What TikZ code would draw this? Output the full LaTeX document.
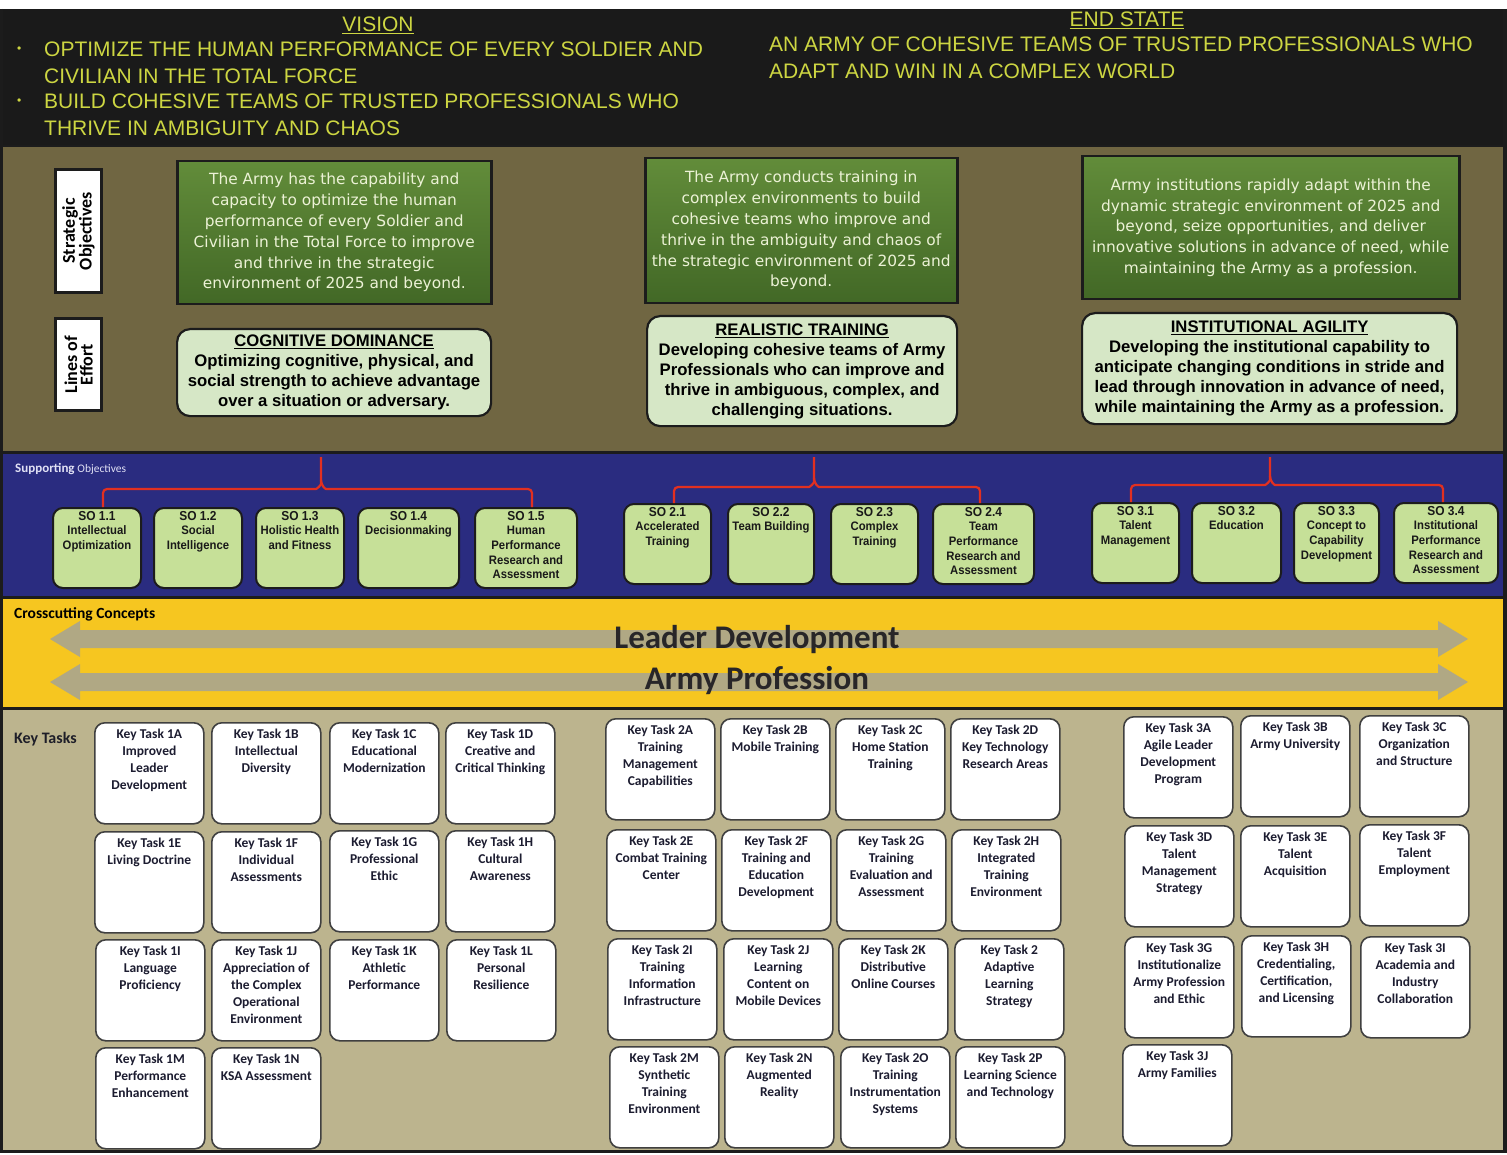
\documentclass[tikz,border=0pt]{standalone}
\usepackage{fontspec}
\setmainfont{Liberation Sans}
\newfontfamily\dvs{DejaVu Sans}
\newfontfamily\crl{Carlito}
\newfontfamily\arn[FakeStretch=0.92]{Liberation Sans}
\definecolor{hdrbg}{RGB}{26,26,26}
\definecolor{hdrtx}{RGB}{205,214,66}
\definecolor{olivebg}{RGB}{112,102,66}
\definecolor{bandblue}{RGB}{42,44,128}
\definecolor{bandyel}{RGB}{246,198,32}
\definecolor{tanbg}{RGB}{188,180,142}
\definecolor{sogreenT}{RGB}{98,140,58}
\definecolor{sogreenB}{RGB}{66,104,38}
\definecolor{sotext}{RGB}{236,242,214}
\definecolor{loefill}{RGB}{214,231,198}
\definecolor{smallfill}{RGB}{198,224,152}
\definecolor{bracered}{RGB}{226,48,32}
\definecolor{arrowc}{RGB}{176,168,132}
\definecolor{kttx}{RGB}{28,28,48}
\definecolor{edge}{RGB}{28,28,28}
\newcommand{\ktask}[4]{%
  \node[ktbox, anchor=north west] (#1) at (#2,#3) {};
  \node[kttext, anchor=north] (#1t) at ([yshift=-7pt]#1.north) {#4};}
\newcommand{\sobox}[6]{%
  \node[smallbox, minimum width=#4pt, anchor=north west] (#1) at (#2,#3) {};
  \node[smalltext, anchor=north] (#1t) at ([yshift=-4pt]#1.north) {{\fontsize{13}{15}\selectfont #5}\\#6};}
\begin{document}
\begin{tikzpicture}[x=1pt,y=-1pt,
  hdr/.style={text=hdrtx, font=\fontsize{21}{24}\selectfont, inner sep=0pt},
  lbl/.style={draw=edge, line width=3pt, fill=white, minimum width=46pt, inner sep=0pt},
  lbltext/.style={rotate=90, font=\crl\bfseries\fontsize{18}{15.5}\selectfont, align=center, text=black},
  sobig/.style={draw=edge, line width=2.5pt, top color=sogreenT, bottom color=sogreenB, align=center, text=sotext, font=\dvs\fontsize{15.4}{20.8}\selectfont, inner sep=0pt},
  loe/.style={draw=edge, line width=2.2pt, fill=loefill, rounded corners=13pt, align=center, text=black, font=\bfseries\fontsize{16.7}{20}\selectfont, inner sep=0pt},
  smallbox/.style={draw=edge, line width=2pt, fill=smallfill, rounded corners=10pt, minimum height=80pt, inner sep=0pt},
  smalltext/.style={align=center, text=black!90, font=\arn\bfseries\fontsize{12.3}{14.6}\selectfont, inner sep=0pt},
  brace/.style={draw=bracered, line width=2.2pt, rounded corners=4pt},
  ktbox/.style={draw=black!75, line width=1.6pt, fill=white, rounded corners=10pt, minimum width=109pt, minimum height=101pt, inner sep=0pt},
  kttext/.style={align=center, text=kttx, font=\crl\bfseries\fontsize{13.5}{17}\selectfont, inner sep=0pt}
]
\useasboundingbox (0,0) rectangle (1507,1155);
% ---------- backgrounds ----------
\fill[white] (0,0) rectangle (1507,1155);
\fill[hdrbg] (0,9) rectangle (1507,146);
\fill[olivebg] (0,146) rectangle (1507,452);
\fill[bandblue] (0,452) rectangle (1507,597);
\fill[bandyel] (0,597) rectangle (1507,708);
\fill[tanbg] (0,708) rectangle (1507,1150);
\draw[edge, line width=2.5pt] (0,146) -- (1507,146);
\draw[edge, line width=3pt] (0,452) -- (1507,452);
\draw[edge, line width=3pt] (0,597) -- (1507,597);
\draw[edge, line width=3pt] (0,708) -- (1507,708);
\draw[edge, line width=3pt] (0,1151) -- (1507,1151);
\draw[edge, line width=3pt] (1.5,9) -- (1.5,1152);
\draw[edge, line width=4pt] (1505,9) -- (1505,1152);
% ---------- header ----------
\node[hdr, anchor=base] (vis) at (378,32) {\underline{VISION}};
\node[hdr, anchor=base west, font=\fontsize{12}{14}\selectfont] (vb1) at (17,53) {•};
\node[hdr, anchor=base west] (v1) at (44,56.5) {OPTIMIZE THE HUMAN PERFORMANCE OF EVERY SOLDIER AND};
\node[hdr, anchor=base west] (v2) at (44,83.5) {CIVILIAN IN THE TOTAL FORCE};
\node[hdr, anchor=base west, font=\fontsize{12}{14}\selectfont] (vb2) at (17,105) {•};
\node[hdr, anchor=base west] (v3) at (44,108.5) {BUILD COHESIVE TEAMS OF TRUSTED PROFESSIONALS WHO};
\node[hdr, anchor=base west] (v4) at (44,135.5) {THRIVE IN AMBIGUITY AND CHAOS};
\node[hdr, anchor=base] (es) at (1127,27) {\underline{END STATE}};
\node[hdr, anchor=base west] (e1) at (769,51.5) {AN ARMY OF COHESIVE TEAMS OF TRUSTED PROFESSIONALS WHO};
\node[hdr, anchor=base west] (e2) at (769,78.5) {ADAPT AND WIN IN A COMPLEX WORLD};
% ---------- strategic objectives / lines of effort ----------
\node[lbl, minimum height=123pt, anchor=north west] (lso) at (54,168) {};
\node[lbltext] (lsot) at (lso.center) {Strategic\\Objectives};
\node[lbl, minimum height=92pt, anchor=north west] (lloe) at (54,317) {};
\node[lbltext] (lloet) at (lloe.center) {Lines of\\Effort};

\node[sobig, minimum width=314pt, minimum height=143pt, anchor=north west] (s1) at (176,160)
 {The Army has the capability and\\capacity to optimize the human\\performance of every Soldier and\\Civilian in the Total Force to improve\\and thrive in the strategic\\environment of 2025 and beyond.};
\node[sobig, minimum width=312pt, minimum height=145pt, anchor=north west] (s2) at (644,157)
 {The Army conducts training in\\complex environments to build\\cohesive teams who improve and\\thrive in the ambiguity and chaos of\\the strategic environment of 2025 and\\beyond.};
\node[sobig, minimum width=377pt, minimum height=143pt, anchor=north west] (s3) at (1081,155)
 {Army institutions rapidly adapt within the\\dynamic strategic environment of 2025 and\\beyond, seize opportunities, and deliver\\innovative solutions in advance of need, while\\maintaining the Army as a profession.};

\node[loe, minimum width=314pt, minimum height=87pt, anchor=north west] (l1) at (176,328)
 {\underline{COGNITIVE DOMINANCE}\\Optimizing cognitive, physical, and\\social strength to achieve advantage\\over a situation or adversary.};
\node[loe, minimum width=310pt, minimum height=110pt, anchor=north west] (l2) at (646,315)
 {\underline{REALISTIC TRAINING}\\Developing cohesive teams of Army\\Professionals who can improve and\\thrive in ambiguous, complex, and\\challenging situations.};
\node[loe, minimum width=375pt, minimum height=111pt, anchor=north west] (l3) at (1081,312)
 {\underline{INSTITUTIONAL AGILITY}\\Developing the institutional capability to\\anticipate changing conditions in stride and\\lead through innovation in advance of need,\\while maintaining the Army as a profession.};
% ---------- supporting objectives ----------
\node[anchor=base west, inner sep=0pt, text={rgb,255:red,225;green,225;blue,245}] (sol) at (15,472)
 {{\crl\bfseries\fontsize{13}{15}\selectfont Supporting} {\crl\fontsize{11.5}{13}\selectfont Objectives}};

\sobox{so11}{52}{507}{88}{SO 1.1}{Intellectual\\Optimization}
\sobox{so12}{153}{507}{88}{SO 1.2}{Social\\Intelligence}
\sobox{so13}{255}{507}{88}{SO 1.3}{Holistic Health\\and Fitness}
\sobox{so14}{357}{507}{101}{SO 1.4}{Decisionmaking}
\sobox{so15}{474}{507}{102}{SO 1.5}{Human\\Performance\\Research and\\Assessment}
\sobox{so21}{623}{503}{87}{SO 2.1}{Accelerated\\Training}
\sobox{so22}{727}{503}{86}{SO 2.2}{Team Building}
\sobox{so23}{830}{503}{87}{SO 2.3}{Complex\\Training}
\sobox{so24}{932}{503}{101}{SO 2.4}{Team\\Performance\\Research and\\Assessment}
\sobox{so31}{1091}{502}{87}{SO 3.1}{Talent\\Management}
\sobox{so32}{1191}{502}{89}{SO 3.2}{Education}
\sobox{so33}{1293}{502}{85}{SO 3.3}{Concept to\\Capability\\Development}
\sobox{so34}{1393}{502}{104}{SO 3.4}{Institutional\\Performance\\Research and\\Assessment}

% braces
\coordinate (b1t) at (321,457);
\coordinate (b1l) at (103,507);
\coordinate (b1r) at (532,507);
\draw[brace] (b1l) |- (312,489) to[out=0,in=-90] (321,480) -- (b1t);
\draw[brace] (b1r) |- (330,489) to[out=180,in=-90] (321,480);
\coordinate (b2t) at (814,457);
\coordinate (b2l) at (674,503);
\coordinate (b2r) at (980,503);
\draw[brace] (b2l) |- (805,487) to[out=0,in=-90] (814,478) -- (b2t);
\draw[brace] (b2r) |- (823,487) to[out=180,in=-90] (814,478);
\coordinate (b3t) at (1270,457);
\coordinate (b3l) at (1131,502);
\coordinate (b3r) at (1443,502);
\draw[brace] (b3l) |- (1261,485) to[out=0,in=-90] (1270,476) -- (b3t);
\draw[brace] (b3r) |- (1279,485) to[out=180,in=-90] (1270,476);
% ---------- crosscutting concepts ----------
\node[anchor=base west, inner sep=0pt, font=\crl\bfseries\fontsize{15.5}{18}\selectfont] (ccl) at (14,618) {Crosscutting Concepts};
\fill[arrowc] (50,639) -- (80,621) -- (80,630) -- (1438,630) -- (1438,621) -- (1468,639) -- (1438,657) -- (1438,648) -- (80,648) -- (80,657) -- cycle;
\fill[arrowc] (50,682) -- (80,664) -- (80,673) -- (1438,673) -- (1438,664) -- (1468,682) -- (1438,700) -- (1438,691) -- (80,691) -- (80,700) -- cycle;
\node[inner sep=0pt, font=\crl\bfseries\fontsize{33}{36}\selectfont, text={rgb,255:red,40;green,38;blue,40}] (ld) at (757,640) {Leader Development};
\node[inner sep=0pt, font=\crl\bfseries\fontsize{33}{36}\selectfont, text={rgb,255:red,40;green,38;blue,40}] (ap) at (757,681) {Army Profession};
% ---------- key tasks ----------
\node[anchor=base west, inner sep=0pt, font=\crl\bfseries\fontsize{16}{18}\selectfont, text={rgb,255:red,30;green,30;blue,40}] (ktl) at (14,743) {Key Tasks};

\ktask{k1a}{94}{722}{Key Task 1A\\Improved\\Leader\\Development}
\ktask{k1b}{211}{722}{Key Task 1B\\Intellectual\\Diversity}
\ktask{k1c}{329}{722}{Key Task 1C\\Educational\\Modernization}
\ktask{k1d}{445}{722}{Key Task 1D\\Creative and\\Critical Thinking}
\ktask{k1e}{94}{831}{Key Task 1E\\Living Doctrine}
\ktask{k1f}{211}{831}{Key Task 1F\\Individual\\Assessments}
\ktask{k1g}{329}{830}{Key Task 1G\\Professional\\Ethic}
\ktask{k1h}{445}{830}{Key Task 1H\\Cultural\\Awareness}
\ktask{k1i}{95}{939}{Key Task 1I\\Language\\Proficiency}
\ktask{k1j}{211}{939}{Key Task 1J\\Appreciation of\\the Complex\\Operational\\Environment}
\ktask{k1k}{329}{939}{Key Task 1K\\Athletic\\Performance}
\ktask{k1l}{446}{939}{Key Task 1L\\Personal\\Resilience}
\ktask{k1m}{95}{1047}{Key Task 1M\\Performance\\Enhancement}
\ktask{k1n}{211}{1047}{Key Task 1N\\KSA Assessment}

\ktask{k2a}{605}{718}{Key Task 2A\\Training\\Management\\Capabilities}
\ktask{k2b}{720}{718}{Key Task 2B\\Mobile Training}
\ktask{k2c}{835}{718}{Key Task 2C\\Home Station\\Training}
\ktask{k2d}{950}{718}{Key Task 2D\\Key Technology\\Research Areas}
\ktask{k2e}{606}{829}{Key Task 2E\\Combat Training\\Center}
\ktask{k2f}{721}{829}{Key Task 2F\\Training and\\Education\\Development}
\ktask{k2g}{836}{829}{Key Task 2G\\Training\\Evaluation and\\Assessment}
\ktask{k2h}{951}{829}{Key Task 2H\\Integrated\\Training\\Environment}
\ktask{k2i}{607}{938}{Key Task 2I\\Training\\Information\\Infrastructure}
\ktask{k2j}{723}{938}{Key Task 2J\\Learning\\Content on\\Mobile Devices}
\ktask{k2k}{838}{938}{Key Task 2K\\Distributive\\Online Courses}
\ktask{k2l}{954}{938}{Key Task 2\\Adaptive\\Learning\\Strategy}
\ktask{k2m}{609}{1046}{Key Task 2M\\Synthetic\\Training\\Environment}
\ktask{k2n}{724}{1046}{Key Task 2N\\Augmented\\Reality}
\ktask{k2o}{840}{1046}{Key Task 2O\\Training\\Instrumentation\\Systems}
\ktask{k2p}{955}{1046}{Key Task 2P\\Learning Science\\and Technology}

\ktask{k3a}{1123}{716}{Key Task 3A\\Agile Leader\\Development\\Program}
\ktask{k3b}{1240}{715}{Key Task 3B\\Army University}
\ktask{k3c}{1359}{715}{Key Task 3C\\Organization\\and Structure}
\ktask{k3d}{1124}{825}{Key Task 3D\\Talent\\Management\\Strategy}
\ktask{k3e}{1240}{825}{Key Task 3E\\Talent\\Acquisition}
\ktask{k3f}{1359}{824}{Key Task 3F\\Talent\\Employment}
\ktask{k3g}{1124}{936}{Key Task 3G\\Institutionalize\\Army Profession\\and Ethic}
\ktask{k3h}{1241}{935}{Key Task 3H\\Credentialing,\\Certification,\\and Licensing}
\ktask{k3i}{1360}{936}{Key Task 3I\\Academia and\\Industry\\Collaboration}
\ktask{k3j}{1122}{1044}{Key Task 3J\\Army Families}
\end{tikzpicture}
\end{document}
